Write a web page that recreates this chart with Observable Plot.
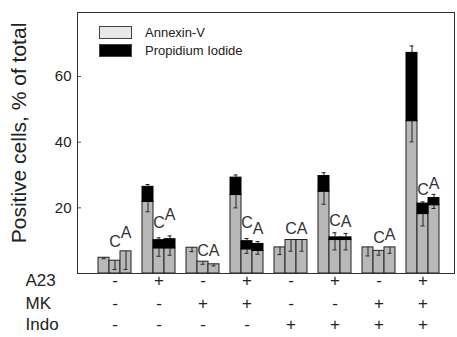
<!DOCTYPE html>
<html><head><meta charset="utf-8">
<script src="https://cdn.jsdelivr.net/npm/d3@7"></script>
<script src="https://cdn.jsdelivr.net/npm/@observablehq/plot@0.6"></script>
<style>
body{margin:0;background:#fff;}
#chart{position:relative;width:457px;height:337px;font-family:"Liberation Sans",Arial,sans-serif;}
.legend{position:absolute;left:99px;top:23px;font-size:13px;color:#222;}
.legend .row{display:flex;align-items:center;height:18px;}
.sw{display:inline-block;width:31px;height:11px;border:1px solid #444;margin-right:13px;}
</style></head><body><div id="chart"></div>
<script>
const groups = ["1","2","3","4","5","6","7","8"];
const bars = ["ctrl","C","A"];
const seriesNames = ["Annexin-V", "Propidium Iodide"];
const A23  = ["-","+","-","+","-","+","-","+"];
const MK   = ["-","-","+","+","-","-","+","+"];
const Indo = ["-","-","-","-","+","+","+","+"];
const annexin = [[4.8,3.9,6.75],[21.8,7.65,7.65],[7.85,3.6,2.8],[23.9,7.35,6.85],[7.95,10.2,10.2],[24.9,10.2,10.2],[7.95,6.9,7.95],[46.4,18.1,20.8]];
const propidium = [[0,0,0],[4.6,2.5,2.8],[0,0,0],[5.3,2.5,2.15],[0,0,0],[4.8,0.8,0.8],[0,0,0],[20.8,3.2,2.2]];
const annexinErr = [[0.3,2.7,5.5],[3.0,2.4,2.1],[1.2,0.8,0.5],[3.9,1.2,1.0],[2.2,3.4,3.4],[3.8,3.0,3.0],[2.6,1.3,1.8],[6.3,3.6,1.0]];
const propidiumErr = [[0,0,0],[0.7,0.7,1.0],[0,0,0],[0.8,0.8,0.7],[0,0,0],[1.0,1.4,1.2],[0,0,0],[2.1,0.5,1.1]];
const labelC = [9.7,15.3,6.9,15.3,13.7,16.0,10.7,25.4];
const labelA = [12.3,17.8,6.9,13.5,13.7,15.6,11.7,27.4];
const yTicks = [20,40,60];
const yLabel = "Positive cells, % of total";

const key = (g,b) => g + "·" + b;
const slots = groups.flatMap((g,i) => (i ? ["gap" + g] : []).concat(bars.map(b => key(g,b))));
const rows = groups.flatMap((g,i) => bars.map((b,j) => ({
  slot: key(g,b), ann: annexin[i][j], pi: propidium[i][j],
  annErr: annexinErr[i][j], piErr: propidiumErr[i][j], total: annexin[i][j] + propidium[i][j]
})));
const piRows = rows.filter(r => r.pi > 0);
const piErrRows = rows.filter(r => r.piErr > 0);
const labels = groups.flatMap((g,i) => [
  {slot: key(g,"C"), text: "C", y: labelC[i]},
  {slot: key(g,"A"), text: "A", y: labelA[i]}
]);
const factors = [{name:"A23", signs:A23},{name:"MK", signs:MK},{name:"Indo", signs:Indo}];
const rowDy = [12, 35, 56];
const ink = "#222";

const plot = Plot.plot({
  width: 457, height: 337,
  marginLeft: 77, marginRight: 3, marginTop: 12, marginBottom: 64,
  style: {fontFamily: "'Liberation Sans', Arial, sans-serif", color: ink, background: "#fff", overflow: "visible"},
  x: {type: "band", domain: slots, padding: 0, insetLeft: 7, insetRight: 2, axis: null},
  y: {domain: [0, 79.5]},
  marks: [
    Plot.barY(rows, {x: "slot", y1: 0, y2: "ann", fill: "#b8b8b8", stroke: ink, strokeWidth: 1}),
    Plot.barY(piRows, {x: "slot", y1: "ann", y2: "total", fill: "#000", stroke: "#000", strokeWidth: 1}),
    Plot.ruleX(rows, {x: "slot", y1: "ann", y2: d => d.ann - d.annErr, stroke: ink}),
    Plot.tickY(rows, {x: "slot", y: d => d.ann - d.annErr, stroke: ink, insetLeft: 3.5, insetRight: 3.5}),
    Plot.ruleX(piErrRows, {x: "slot", y1: "total", y2: d => d.total + d.piErr, stroke: ink}),
    Plot.tickY(piErrRows, {x: "slot", y: d => d.total + d.piErr, stroke: ink, insetLeft: 3.5, insetRight: 3.5}),
    Plot.text(labels, {x: "slot", y: "y", text: "text", fontSize: 16, fill: "#333"}),
    Plot.axisY(yTicks, {tickSize: 0, tickPadding: 6, fontSize: 15, label: null}),
    Plot.axisY(yTicks, {tickSize: -4, text: null, label: null, stroke: "#555"}),
    Plot.text([yLabel], {frameAnchor: "left", textAnchor: "middle", lineAnchor: "middle", rotate: -90, dx: -58, dy: -10, fontSize: 21, text: d => d, fill: ink}),
    Plot.frame({stroke: "#333"}),
    ...factors.flatMap((f,k) => [
      Plot.text([f.name], {frameAnchor: "bottom-left", dx: -52, dy: rowDy[k], textAnchor: "start", text: d => d, fontSize: 17, fill: ink}),
      Plot.text(groups, {x: g => key(g,"C"), frameAnchor: "bottom", dy: rowDy[k], text: (g,i) => f.signs[i], fontSize: 17, fill: ink})
    ])
  ]
});
const chart = document.getElementById("chart");
chart.appendChild(plot);
const legend = document.createElement("div");
legend.className = "legend";
const swatchFills = ["#e8e8e8", "#000"];
seriesNames.forEach((name, i) => {
  const row = document.createElement("div");
  row.className = "row";
  const sw = document.createElement("span");
  sw.className = "sw";
  sw.style.background = swatchFills[i];
  row.appendChild(sw);
  row.appendChild(document.createTextNode(name));
  legend.appendChild(row);
});
chart.appendChild(legend);
</script></body></html>
